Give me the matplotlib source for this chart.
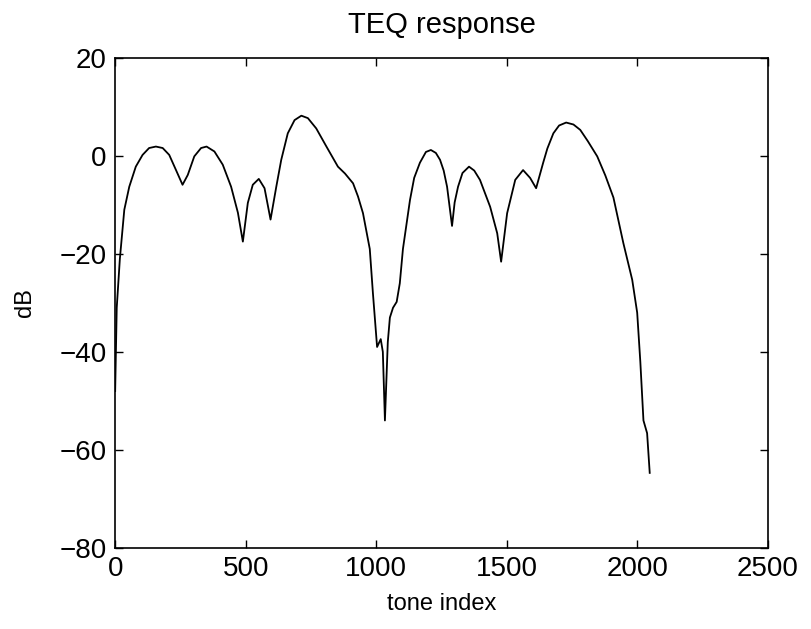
import matplotlib
matplotlib.use("Agg")
import matplotlib.pyplot as plt

plt.rcParams['font.family'] = ['Liberation Sans', 'DejaVu Sans']

# values (tone index, dB)
tone = [0, 6, 18, 35, 54, 79, 105, 130, 156, 182, 207, 233, 258, 278, 303,
        329, 350, 380, 412, 444, 470, 489, 508, 527, 550, 572, 595, 617,
        636, 661, 687, 713, 738, 770, 809, 853, 880, 911, 930, 949, 975,
        987, 1003, 1017, 1025, 1033, 1044, 1052, 1064, 1078, 1090, 1102,
        1129, 1145, 1167, 1190, 1209, 1228, 1244, 1258, 1271, 1290, 1300,
        1313, 1330, 1355, 1375, 1397, 1436, 1463, 1478, 1501, 1532, 1562,
        1589, 1612, 1639, 1655, 1678, 1700, 1727, 1755, 1781, 1810, 1846,
        1877, 1908, 1946, 1980, 1999, 2011, 2023, 2037, 2047]
resp_db = [-48, -31, -21, -11, -6.3, -2.2, 0.2, 1.6, 1.9, 1.6, 0.2, -2.9,
           -5.9, -3.9, -0.1, 1.6, 1.9, 0.9, -1.8, -6.3, -11.6, -17.5, -9.6,
           -5.9, -4.7, -6.6, -13.0, -6.3, -0.8, 4.6, 7.3, 8.2, 7.7, 5.6,
           1.9, -2.2, -3.6, -5.6, -8.3, -11.7, -19, -28, -39, -37.4, -40,
           -54, -38, -33, -31, -29.8, -26, -19, -9, -4.5, -1.4, 0.8, 1.2,
           0.6, -0.8, -3.0, -6.3, -14.3, -9.5, -6.3, -3.5, -2.2, -3.0, -4.9,
           -10.4, -15.8, -21.6, -11.7, -4.9, -2.9, -4.5, -6.6, -1.4, 1.5,
           4.6, 6.2, 6.8, 6.4, 5.3, 3.0, -0.1, -4, -8.5, -17.8, -25.3, -32,
           -42, -54, -56.6, -64.7]

fig = plt.figure(figsize=(8.11, 6.29), dpi=100)
ax = fig.add_axes([0.142, 0.129, 0.805, 0.779])
ax.plot(tone, resp_db, color='black', linewidth=1.3)

ax.set_xlim(0, 2500)
ax.set_ylim(-80, 20)
ax.set_xticks([0, 500, 1000, 1500, 2000, 2500])
ax.set_yticks([-80, -60, -40, -20, 0, 20])
ax.tick_params(direction='in', length=6, width=1, top=True, right=True,
               labelsize=20, pad=6)
for s in ax.spines.values():
    s.set_linewidth(1.2)

ax.set_title('TEQ response', fontsize=21, pad=18)
ax.set_xlabel('tone index', fontsize=17, labelpad=8)
ax.set_ylabel('dB', fontsize=17, labelpad=17)

fig.savefig('out.png', dpi=100)
